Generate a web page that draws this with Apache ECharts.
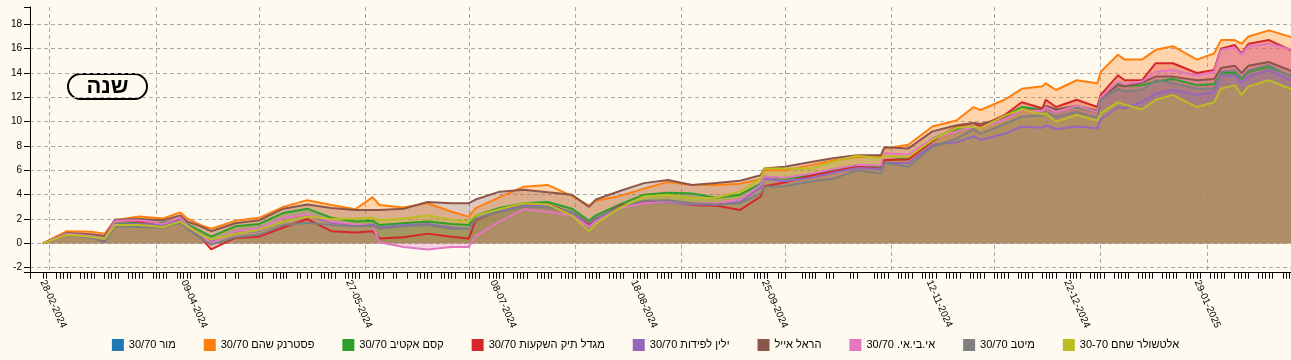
<!DOCTYPE html>
<html><head><meta charset="utf-8">
<script src="https://cdn.jsdelivr.net/npm/echarts@6/dist/echarts.min.js"></script>
<style>html,body{margin:0;padding:0;background:#fffaf0;}#c{width:1291px;height:360px;}</style>
</head><body><div id="c"></div>
<script>
// ---- DATA ----
const dates = ['2024-02-28','2024-03-06','2024-03-13','2024-03-17','2024-03-20','2024-03-27','2024-04-03','2024-04-08','2024-04-10','2024-04-14','2024-04-17','2024-04-24','2024-05-01','2024-05-08','2024-05-15','2024-05-22','2024-05-29','2024-06-03','2024-06-05','2024-06-12','2024-06-19','2024-06-26','2024-07-01','2024-07-03','2024-07-10','2024-07-17','2024-07-24','2024-07-31','2024-08-05','2024-08-07','2024-08-14','2024-08-21','2024-08-28','2024-09-04','2024-09-11','2024-09-18','2024-09-24','2024-09-25','2024-10-01','2024-10-09','2024-10-15','2024-10-22','2024-10-29','2024-10-30','2024-11-06','2024-11-13','2024-11-20','2024-11-25','2024-11-27','2024-12-04','2024-12-09','2024-12-15','2024-12-16','2024-12-19','2024-12-25','2024-12-31','2025-01-01','2025-01-06','2025-01-08','2025-01-13','2025-01-17','2025-01-22','2025-01-29','2025-02-03','2025-02-05','2025-02-09','2025-02-11','2025-02-13','2025-02-19','2025-02-26'];
const seriesNames = ['מור 30/70','פסטרנק שהם 30/70','קסם אקטיב 30/70','מגדל תיק השקעות 30/70','ילין לפידות 30/70','הראל אייל','אי.בי.אי. 30/70','מיטב 30/70','אלטשולר שחם 30-70'];
const colors = ['#1f77b4','#ff7f0e','#2ca02c','#d62728','#9467bd','#8c564b','#e377c2','#7f7f7f','#bcbd22'];
const mor = [];
const pasternak = [0,1.0,0.95,0.8,1.9,2.2,2.05,2.55,2.05,1.5,1.2,1.85,2.1,3.0,3.55,3.15,2.8,3.8,3.15,2.95,3.3,2.6,2.2,2.9,3.8,4.65,4.8,3.9,3.1,3.5,3.9,4.5,5.05,4.8,4.8,4.9,5.3,6.0,6.0,6.45,6.8,7.1,7.1,7.8,8.1,9.6,10.1,11.2,10.96,11.8,12.7,12.9,13.15,12.6,13.4,13.15,14.1,15.5,15.1,15.1,15.9,16.2,15.1,15.6,16.7,16.7,16.4,17.0,17.5,16.9];
const kesem = [0,0.75,0.6,0.4,1.6,1.7,1.7,2.0,1.6,1.0,0.55,1.4,1.6,2.5,2.85,2.1,1.8,1.85,1.5,1.65,1.8,1.6,1.5,2.3,2.9,3.3,3.4,2.85,1.85,2.3,3.2,4.0,4.15,4.1,3.75,4.0,4.9,5.5,5.3,5.6,6.0,6.45,6.3,6.8,7.0,8.6,9.4,9.6,9.5,10.5,11.2,11.0,11.3,11.0,11.2,10.8,12.0,13.1,12.9,13.0,13.3,13.5,13.0,13.1,14.0,14.0,13.5,14.1,14.5,13.7];
const migdal = [0,0.7,0.55,0.2,1.95,1.8,1.6,2.0,1.4,0.5,-0.5,0.45,0.55,1.3,2.0,1.0,0.9,1.0,0.4,0.5,0.8,0.55,0.4,1.9,2.7,3.1,3.2,2.5,1.55,2.0,3.1,3.4,3.5,3.15,3.1,2.75,3.85,4.7,5.0,5.6,5.9,6.3,6.15,6.85,6.9,8.4,9.6,9.9,9.6,10.55,11.6,11.1,11.8,11.2,11.8,11.2,12.2,13.8,13.4,13.4,14.8,14.8,14.0,14.25,16.0,16.3,15.6,16.4,16.7,15.8];
const yelin = [0,0.75,0.5,0.3,1.55,1.6,1.5,1.9,1.4,0.6,0.2,0.9,1.0,1.8,2.3,1.7,1.5,1.55,1.3,1.5,1.6,1.3,1.2,2.0,2.7,3.1,3.1,2.5,1.4,1.9,3.0,3.3,3.4,3.2,3.2,3.4,4.6,5.3,5.1,5.4,5.8,6.2,6.1,6.6,6.6,8.1,8.3,8.8,8.5,9.0,9.6,9.5,9.7,9.4,9.6,9.45,10.2,11.2,11.1,11.6,12.3,12.6,12.2,12.4,13.8,13.8,13.2,13.7,14.25,13.3];
const harel = [0,0.85,0.75,0.6,1.95,2.0,1.9,2.3,1.8,1.4,1.0,1.65,1.9,2.85,3.2,2.9,2.75,2.75,2.75,2.85,3.4,3.3,3.3,3.6,4.25,4.4,4.2,4.0,3.0,3.6,4.3,4.95,5.2,4.8,4.95,5.15,5.6,6.15,6.3,6.7,7.0,7.25,7.25,7.9,7.8,9.2,9.7,9.9,9.8,10.3,10.9,11.0,11.3,11.0,11.3,10.9,12.0,13.0,12.9,13.2,13.7,13.7,13.4,13.5,14.4,14.6,14.0,14.6,14.9,14.1];
const ibi = [0,0.8,0.6,0.4,1.85,1.9,1.6,2.1,1.5,0.7,0.0,1.0,1.25,2.1,2.4,1.8,1.55,1.4,0.1,-0.3,-0.5,-0.3,-0.3,0.6,1.8,2.8,2.6,2.3,1.35,1.8,2.9,3.3,3.45,3.3,3.3,3.6,4.8,5.5,5.4,5.75,6.1,6.45,6.4,7.4,7.3,8.6,9.2,9.6,9.5,10.2,10.9,10.9,11.2,10.8,11.3,10.8,12.0,13.3,13.1,13.3,14.1,14.25,13.8,14.1,15.9,16.1,15.5,16.2,16.4,15.9];
const meitav = [0,0.7,0.45,0.1,1.4,1.35,1.3,1.7,1.2,0.4,-0.1,0.5,0.7,1.5,1.7,1.5,1.4,1.45,1.2,1.4,1.5,1.2,1.2,2.0,2.6,3.0,2.95,2.6,1.7,2.1,3.0,3.5,3.55,3.3,3.2,3.3,4.1,4.65,4.7,5.1,5.3,6.0,5.75,6.6,6.3,7.95,8.6,9.4,9.0,9.8,10.4,10.5,10.8,10.4,10.8,10.3,11.8,12.7,12.5,12.6,13.4,13.15,12.7,12.7,14.1,14.2,13.6,14.2,14.65,13.6];
const altshuler = [0,0.7,0.55,0.35,1.5,1.5,1.35,1.8,1.4,0.7,0.3,0.8,1.1,1.8,2.2,2.0,2.05,2.1,1.9,2.05,2.3,1.95,1.8,2.3,2.8,3.3,3.2,2.3,1.0,1.6,2.9,3.85,4.0,3.7,3.75,4.25,5.35,6.15,6.15,6.15,6.7,7.2,7.0,7.2,7.1,8.5,9.5,9.6,9.45,10.5,11.0,10.6,10.7,10.0,10.55,10.1,10.7,11.6,11.4,11.0,11.8,12.2,11.2,11.6,12.7,13.0,12.2,12.9,13.4,12.6];
const seriesValues = [mor,pasternak,kesem,migdal,yelin,harel,ibi,meitav,altshuler];
const yTickLabels = [-2,0,2,4,6,8,10,12,14,16,18];
const xTickLabels = ['2024-02-28','2024-04-09','2024-05-27','2024-07-08','2024-08-18','2024-09-25','2024-11-12','2024-12-22','2025-01-29'];
const marketHolidays = ['2024-04-22','2024-04-23','2024-04-28','2024-04-29','2024-05-14','2024-06-11','2024-06-12','2024-10-02','2024-10-03','2024-10-16','2024-10-17','2024-10-23','2024-10-24'];
const periodLabel = 'שנה';

// ---- helpers ----
const DAY = 86400000;
function ts(s){const p=s.split('-').map(Number);return new Date(p[0],p[1]-1,p[2]).getTime();}
function pad(n){return (n<10?'0':'')+n;}
function fmt(v){const d=new Date(v);return pad(d.getDate())+'-'+pad(d.getMonth()+1)+'-'+d.getFullYear();}
const start = ts(dates[0]), end = ts(dates[dates.length-1]);
const xMin = start - 3.74*DAY, xMax = start + 363.39*DAY;
const yMin = -2.41, yMax = 19.42;
const hol = new Set(marketHolidays);
const tickTs = [xMin];
for (let t = start; t <= end + 0.5*DAY; t += DAY) {
  const d = new Date(t); const dd = new Date(d.getFullYear(), d.getMonth(), d.getDate());
  const wd = dd.getDay();
  const key = dd.getFullYear()+'-'+pad(dd.getMonth()+1)+'-'+pad(dd.getDate());
  if (wd <= 4 && !hol.has(key)) tickTs.push(dd.getTime());
}
const monthTs = [];
for (let m = 2; m < 14; m++) monthTs.push(new Date(2024, m, 1).getTime());

const gridLine = {show:true, lineStyle:{color:'#a8a8a8', type:[4,3], width:1}};
const series = seriesNames.map((n,i)=>({
  name:n, type:'line', xAxisIndex:0, yAxisIndex:0,
  data: seriesValues[i].map((v,j)=>[ts(dates[j]), v]),
  showSymbol:false, symbol:'none', animation:false,
  lineStyle:{width:2, color:colors[i]}, itemStyle:{color:colors[i]},
  areaStyle:{color:colors[i], opacity:0.3}
}));

const chart = echarts.init(document.getElementById('c'), null, {renderer:'canvas'});
chart.setOption({
  backgroundColor:'#fffaf0',
  animation:false,
  textStyle:{fontFamily:'"Liberation Sans", Arial, sans-serif'},
  grid:{left:30, right:0, top:7, height:265.7, containLabel:false},
  xAxis:[
    {type:'value', min:xMin, max:xMax, position:'bottom',
     axisLine:{show:true, onZero:false, lineStyle:{color:'#000', width:1}},
     axisTick:{show:true, customValues:tickTs, length:6, lineStyle:{color:'#000'}},
     axisLabel:{show:true, customValues:xTickLabels.map(ts), formatter:fmt, rotate:-66, margin:8, fontSize:10, color:'#000'},
     splitLine:{show:false}},
    {type:'value', min:xMin, max:xMax, position:'top',
     axisLine:{show:false}, axisTick:{show:false, customValues:monthTs}, axisLabel:{show:false},
     splitLine:gridLine}
  ],
  yAxis:[
    {type:'value', min:yMin, max:yMax, position:'left',
     axisLine:{show:true, onZero:false, lineStyle:{color:'#000', width:1}},
     axisTick:{show:true, customValues:yTickLabels.concat([yMin,yMax]), length:6, lineStyle:{color:'#000'}},
     axisLabel:{show:true, customValues:yTickLabels, margin:8, fontSize:10, color:'#000'},
     splitLine:{show:false}},
    {type:'value', min:yMin, max:yMax, position:'right',
     axisLine:{show:false}, axisTick:{show:false, customValues:yTickLabels}, axisLabel:{show:false},
     splitLine:gridLine}
  ],
  legend:{data:seriesNames, left:'center', top:334, itemWidth:12, itemHeight:12, itemGap:28, icon:'rect',
    formatter:n=>'\u202B'+n+'\u202C', textStyle:{fontSize:11, color:'#000'}},
  graphic:[{type:'group', left:67, top:73, children:[
    {type:'rect', shape:{x:0,y:0,width:79,height:25,r:12.5}, style:{fill:'#fffaf0', stroke:'#000', lineWidth:2}},
    {type:'text', x:39.5, y:13, style:{text:periodLabel, font:'bold 22px "Liberation Sans", Arial, sans-serif', fill:'#000', align:'center', verticalAlign:'middle'}}
  ]}],
  series:series
});
</script></body></html>
